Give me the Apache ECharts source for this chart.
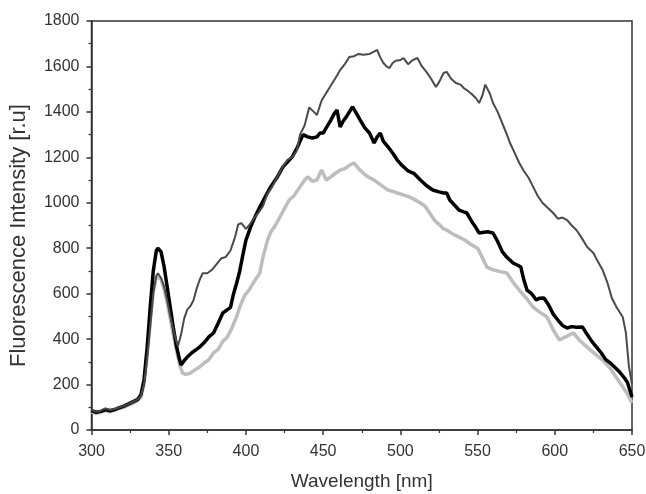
<!DOCTYPE html>
<html>
<head>
<meta charset="utf-8">
<script src="https://cdn.jsdelivr.net/npm/echarts@6/dist/echarts.min.js"></script>
<style>html,body{margin:0;padding:0;background:#fff;}#c{width:646px;height:494px;}</style>
</head>
<body>
<div id="c"></div>
<script>
var xTicks = [300, 350, 400, 450, 500, 550, 600, 650];
var yTicks = [0, 200, 400, 600, 800, 1000, 1200, 1400, 1600, 1800];

var seriesDarkGray = [[300,90],[303,80],[306,85],[309,95],[312,88],[315,92],[318,100],[321,105],[324,115],[327,125],[330,135],[332,150],[334,200],[336,310],[338,450],[340,600],[342,680],[343,690],[345,670],[347,630],[349,570],[351,500],[353,440],[355,390],[356,370],[358,420],[360,490],[362,530],[364,545],[366,570],[368,620],[370,660],[372,690],[375,690],[378,705],[381,730],[384,755],[387,762],[390,790],[393,850],[395,905],[397,910],[400,885],[402,900],[405,930],[408,955],[411,985],[414,1040],[417,1070],[420,1110],[424,1160],[427,1190],[430,1200],[433,1230],[435,1300],[438,1340],[441,1420],[444,1400],[446,1386],[449,1450],[452,1483],[456,1527],[459,1560],[461,1584],[464,1610],[467,1642],[470,1645],[473,1655],[476,1651],[480,1655],[483,1665],[485,1673],[487,1640],[489,1615],[491,1600],[493,1593],[495,1615],[497,1625],[500,1628],[502,1637],[505,1610],[508,1628],[511,1637],[514,1600],[517,1575],[520,1545],[523,1510],[525,1530],[528,1571],[530,1576],[533,1545],[536,1527],[539,1520],[541,1505],[543,1496],[546,1480],[549,1460],[551,1439],[553,1470],[555,1520],[556,1527],[558,1480],[560,1439],[563,1400],[566,1350],[569,1300],[571,1263],[574,1220],[577,1175],[580,1140],[583,1110],[586,1070],[589,1030],[592,1000],[595,980],[599,955],[602,930],[605,935],[608,924],[611,900],[614,880],[617,850],[621,805],[625,779],[628,740],[631,704],[634,650],[637,580],[640,540],[644,497],[646,430],[648,280],[650,200]];

var seriesBlack = [[300,85],[303,78],[306,82],[309,90],[312,85],[315,90],[318,98],[321,105],[324,115],[327,125],[330,135],[332,155],[334,220],[336,360],[338,540],[340,700],[342,790],[343,800],[345,785],[347,720],[349,630],[351,540],[353,450],[355,370],[357,310],[358,286],[360,305],[362,321],[365,340],[368,355],[370,365],[373,385],[376,410],[379,427],[382,470],[385,515],[388,530],[390,540],[392,600],[394,647],[396,700],[398,770],[400,836],[403,893],[406,940],[409,981],[412,1020],[416,1070],[420,1110],[424,1158],[427,1180],[430,1202],[433,1240],[437,1300],[440,1290],[443,1285],[446,1290],[448,1307],[450,1307],[452,1330],[455,1364],[457,1390],[459,1408],[461,1334],[463,1360],[465,1378],[467,1400],[469,1422],[471,1400],[474,1364],[477,1330],[480,1307],[483,1263],[485,1290],[487,1307],[489,1270],[492,1246],[495,1219],[498,1188],[501,1165],[505,1140],[509,1128],[513,1100],[517,1075],[521,1056],[525,1048],[528,1043],[530,1043],[532,1012],[535,990],[538,968],[541,960],[543,955],[546,920],[549,890],[551,867],[554,870],[557,872],[560,867],[563,830],[566,785],[569,760],[573,735],[576,725],[578,717],[580,660],[582,616],[585,600],[588,572],[590,580],[593,581],[596,550],[599,510],[602,484],[605,460],[608,449],[611,455],[614,452],[618,453],[621,420],[624,390],[627,365],[630,340],[633,310],[636,295],[639,275],[642,255],[645,230],[647,210],[650,145]];

var seriesLightGray = [[300,80],[303,72],[306,78],[309,85],[312,80],[315,88],[318,95],[321,100],[324,110],[327,118],[330,130],[332,145],[334,200],[336,330],[338,480],[340,610],[342,675],[343,682],[345,665],[347,620],[349,560],[351,490],[353,420],[355,350],[357,290],[359,250],[361,245],[364,250],[367,265],[370,277],[373,295],[376,310],[379,339],[382,355],[385,390],[388,409],[391,450],[394,500],[396,541],[399,590],[402,616],[405,650],[409,691],[411,760],[414,836],[416,870],[419,900],[422,937],[425,975],[428,1012],[431,1030],[435,1070],[438,1100],[440,1114],[443,1095],[446,1100],[449,1144],[452,1100],[455,1114],[458,1130],[461,1144],[464,1150],[467,1165],[470,1175],[473,1150],[476,1130],[479,1114],[483,1100],[486,1085],[489,1070],[492,1056],[495,1050],[498,1043],[502,1035],[506,1025],[509,1015],[513,999],[516,985],[519,955],[522,924],[525,905],[528,885],[530,880],[534,862],[538,849],[542,835],[546,815],[550,800],[553,760],[556,717],[560,705],[564,698],[569,691],[573,650],[577,616],[581,585],[586,541],[590,520],[595,497],[599,440],[603,396],[607,410],[612,427],[616,395],[621,365],[626,335],[631,308],[636,270],[640,230],[644,190],[647,160],[650,119]];

var FONT = 'Liberation Sans';
var chart = echarts.init(document.getElementById('c'));
chart.setOption({
  animation: false,
  backgroundColor: '#fff',
  grid: { left: 91.5, right: 14, top: 21, bottom: 64, show: true, borderColor: '#333', borderWidth: 1.5, backgroundColor: 'transparent', containLabel: false, outerBoundsMode: 'none' },
  xAxis: {
    type: 'value', min: xTicks[0], max: xTicks[xTicks.length - 1], interval: 50,
    name: 'Wavelength [nm]', nameLocation: 'middle', nameGap: 42,
    nameTextStyle: { fontFamily: FONT, fontSize: 19, color: '#333' },
    axisLine: { show: true, lineStyle: { color: '#333', width: 1.5 } },
    axisTick: { show: true, inside: false, length: 5, lineStyle: { color: '#333', width: 1.5 } },
    minorTick: { show: true, splitNumber: 2, length: 3, lineStyle: { color: '#333', width: 1.2 } },
    axisLabel: { fontFamily: FONT, fontSize: 16, color: '#333', margin: 14, formatter: function (v) { return String(v); } },
    splitLine: { show: false }
  },
  yAxis: {
    type: 'value', min: yTicks[0], max: yTicks[yTicks.length - 1], interval: 200,
    name: 'Fluorescence Intensity [r.u]', nameLocation: 'middle', nameGap: 62,
    nameTextStyle: { fontFamily: FONT, fontSize: 22, color: '#333', padding: [0, 20, 0, 0] },
    axisLine: { show: true, lineStyle: { color: '#333', width: 1.5 } },
    axisTick: { show: true, inside: false, length: 5, lineStyle: { color: '#333', width: 1.5 } },
    minorTick: { show: true, splitNumber: 2, length: 3, lineStyle: { color: '#333', width: 1.2 } },
    axisLabel: { fontFamily: FONT, fontSize: 16, color: '#333', margin: 12, formatter: function (v) { return String(v); } },
    splitLine: { show: false }
  },
  series: [
    { type: 'line', data: seriesLightGray, showSymbol: false, lineStyle: { color: '#bdbdbd', width: 3.5 }, z: 2 },
    { type: 'line', data: seriesBlack, showSymbol: false, lineStyle: { color: '#000', width: 3.5 }, z: 3 },
    { type: 'line', data: seriesDarkGray, showSymbol: false, lineStyle: { color: '#4a4a4a', width: 2 }, z: 4 }
  ]
});
</script>
</body>
</html>
